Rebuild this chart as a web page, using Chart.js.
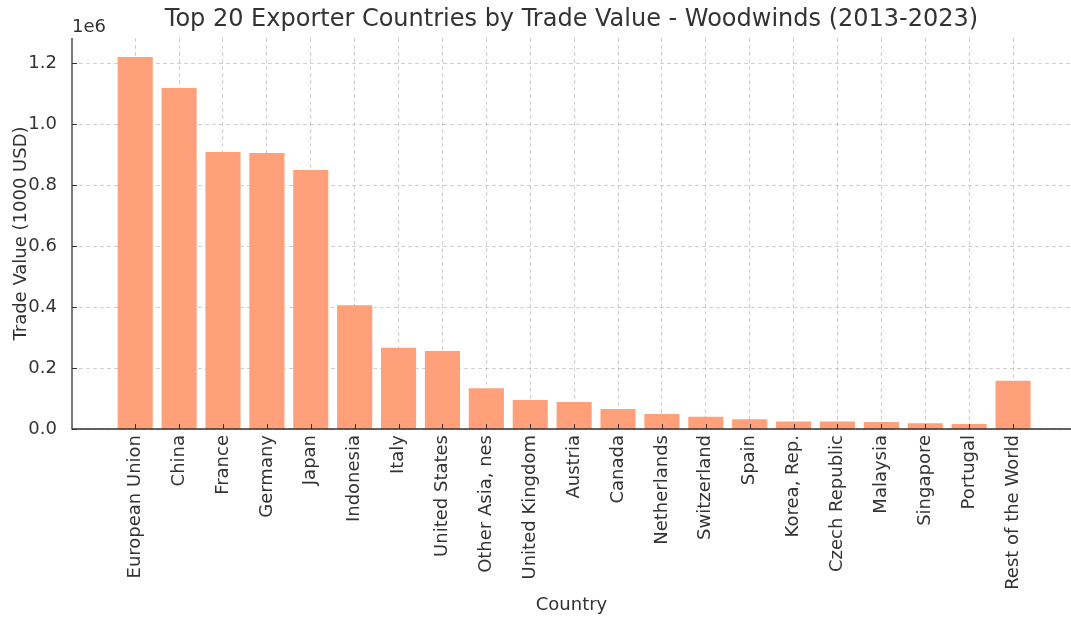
<!DOCTYPE html>
<html>
<head>
<meta charset="utf-8">
<script src="https://cdn.jsdelivr.net/npm/chart.js@4/dist/chart.umd.min.js"></script>
<style>
  html, body { margin: 0; padding: 0; background: #fff; }
  #wrap { width: 1071px; height: 618px; }
</style>
</head>
<body>
<div id="wrap"><canvas id="chart" width="1071" height="618"></canvas></div>
<script>
const countries = ['European Union', 'China', 'France', 'Germany', 'Japan', 'Indonesia', 'Italy',
  'United States', 'Other Asia, nes', 'United Kingdom', 'Austria', 'Canada', 'Netherlands',
  'Switzerland', 'Spain', 'Korea, Rep.', 'Czech Republic', 'Malaysia', 'Singapore', 'Portugal',
  'Rest of the World'];
// trade value, 1000 USD
const tradeValues = [1220000, 1118000, 908000, 905000, 849000, 406000, 266000, 256000, 134000,
  95000, 88500, 65500, 49000, 40000, 32000, 25000, 25000, 23000, 18500, 16500, 158000];
const yTicks = [0, 200000, 400000, 600000, 800000, 1000000, 1200000];

const textColor = '#333333';
const gridColor = 'rgba(170,170,170,0.55)';
const font = 'DejaVu Sans';

// horizontal dashed grid, behind the bars
const hGrid = {
  id: 'hGrid',
  beforeDatasetsDraw(chart) {
    const { ctx, chartArea: a, scales: { y } } = chart;
    ctx.save();
    ctx.strokeStyle = gridColor;
    ctx.lineWidth = 1;
    ctx.setLineDash([4, 3]);
    y.ticks.forEach(t => {
      const py = Math.round(y.getPixelForValue(t.value)) + 0.5;
      ctx.beginPath(); ctx.moveTo(a.left, py); ctx.lineTo(chart.width, py); ctx.stroke();
    });
    ctx.restore();
  }
};

// matplotlib-ish: ticks pointing in, spines on top of the bars
const axisDecor = {
  id: 'axisDecor',
  afterDatasetsDraw(chart) {
    const { ctx, chartArea: a, scales: { x, y } } = chart;
    ctx.save();
    ctx.strokeStyle = textColor;
    ctx.lineWidth = 1;
    x.ticks.forEach(t => {
      const px = Math.round(x.getPixelForValue(t.value)) + 0.5;
      ctx.beginPath(); ctx.moveTo(px, a.bottom); ctx.lineTo(px, a.bottom - 5); ctx.stroke();
    });
    y.ticks.forEach(t => {
      const py = Math.round(y.getPixelForValue(t.value)) + 0.5;
      ctx.beginPath(); ctx.moveTo(a.left, py); ctx.lineTo(a.left + 5, py); ctx.stroke();
    });
    ctx.lineWidth = 1.3;
    ctx.beginPath();
    ctx.moveTo(a.left, a.top); ctx.lineTo(a.left, a.bottom); ctx.lineTo(chart.width, a.bottom);
    ctx.stroke();
    ctx.fillStyle = textColor;
    ctx.font = '18px "' + font + '"';
    ctx.textAlign = 'left';
    ctx.textBaseline = 'middle';
    ctx.fillText('1e6', a.left, 27);
    ctx.restore();
  }
};

new Chart(document.getElementById('chart'), {
  type: 'bar',
  data: {
    datasets: [{
      label: 'Trade Value',
      data: countries.map((c, i) => ({ x: i, y: tradeValues[i] })),
      backgroundColor: '#FFA07A',
      borderWidth: 0,
      barPercentage: 1,
      categoryPercentage: 0.8
    }]
  },
  options: {
    responsive: false,
    animation: false,
    layout: { padding: 0 },
    plugins: {
      legend: { display: false },
      tooltip: { enabled: false },
      title: {
        display: true,
        fullSize: false,
        text: 'Top 20 Exporter Countries by Trade Value - Woodwinds (2013-2023)',
        color: textColor,
        font: { family: font, size: 24, weight: 'normal', lineHeight: 1.2 },
        padding: { top: 5.6, bottom: 3.6 }
      }
    },
    scales: {
      x: {
        type: 'linear',
        offset: false,
        min: -1.44,
        max: 21.32,
        afterBuildTicks: s => { s.ticks = countries.map((c, i) => ({ value: i })); },
        afterFit: s => { s.height = 189; s.paddingLeft = 0; s.paddingRight = 0; },
        grid: { color: gridColor, drawTicks: false, lineWidth: 1, offset: false },
        border: { display: false, dash: [4, 3] },
        ticks: {
          autoSkip: false,
          maxRotation: 90,
          minRotation: 90,
          padding: 6,
          color: textColor,
          font: { family: font, size: 18 },
          callback: v => countries[v]
        },
        title: {
          display: true,
          text: 'Country',
          color: textColor,
          font: { family: font, size: 18, lineHeight: 1.2 },
          padding: { top: 0, bottom: 2.2 }
        }
      },
      y: {
        min: 0,
        max: 1282000,
        afterBuildTicks: s => { s.ticks = yTicks.map(v => ({ value: v })); },
        afterFit: s => { s.width = 72; },
        grid: { display: false },
        border: { display: false },
        ticks: {
          padding: 7,
          color: textColor,
          font: { family: font, size: 18 },
          callback: v => (v / 1e6).toFixed(1)
        },
        title: {
          display: true,
          text: 'Trade Value (1000 USD)',
          color: textColor,
          font: { family: font, size: 18, lineHeight: 1.2 },
          padding: { top: 10.2, bottom: 0 }
        }
      }
    }
  },
  plugins: [hGrid, axisDecor]
});
</script>
</body>
</html>
